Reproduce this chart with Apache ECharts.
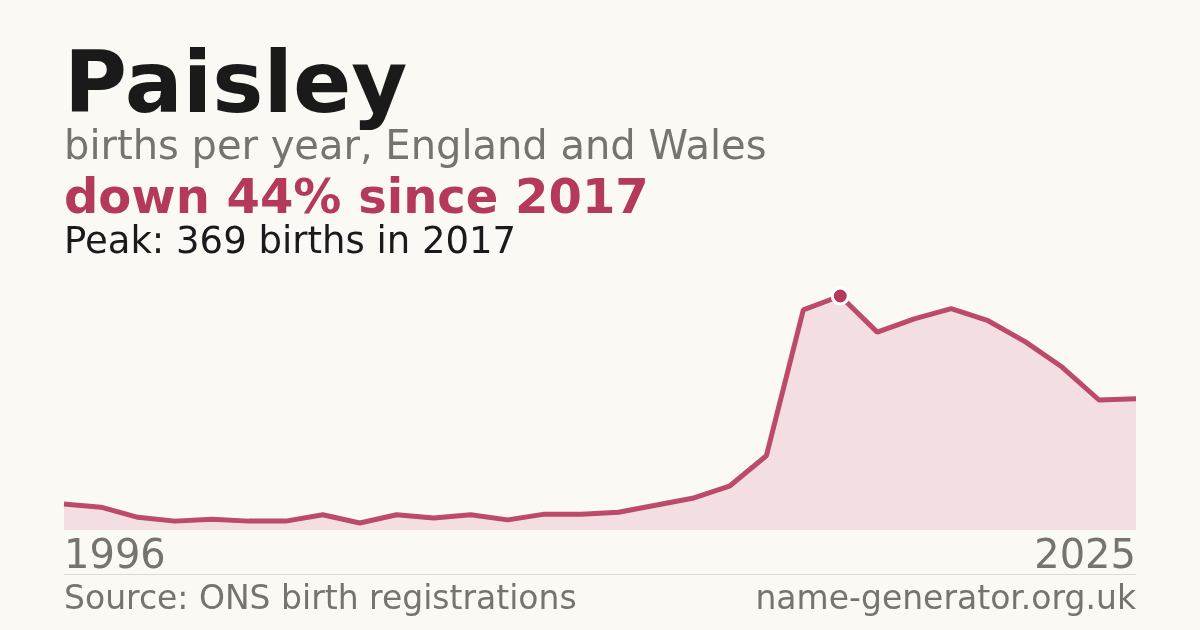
<!DOCTYPE html>
<html><head><meta charset="utf-8">
<script src="https://cdn.jsdelivr.net/npm/echarts@6/dist/echarts.min.js"></script>
<style>html,body{margin:0;padding:0;background:#faf9f4;}#c{width:1200px;height:630px;}</style>
</head><body><div id="c"></div>
<script>
const years = [1996,1997,1998,1999,2000,2001,2002,2003,2004,2005,2006,2007,2008,2009,2010,2011,2012,2013,2014,2015,2016,2017,2018,2019,2020,2021,2022,2023,2024,2025];
const births = [41,36,20,14,17,14,14,24,11,24,19,24,16,25,25,28,39,50,69,117,347,369,312,333,349,330,297,257,205,207];
const peakIndex = 21;
const title = 'Paisley';
const subtitle = 'births per year, England and Wales';
const change = 'down 44% since 2017';
const peakText = 'Peak: 369 births in 2017';
const source = 'Source: ONS birth registrations';
const site = 'name-generator.org.uk';
const red = '#b5395a';
const chart = echarts.init(document.getElementById('c'));
chart.setOption({
  backgroundColor:'#faf9f4',
  animation:false,
  grid:{left:64,right:64,top:296,height:234},
  xAxis:{type:'category',data:years.map(String),boundaryGap:false,show:false},
  yAxis:{type:'value',min:0,max:369,show:false},
  series:[{type:'line',data:births.map((v,i)=>i===peakIndex?{value:v,symbol:'circle',symbolSize:16,itemStyle:{color:red,borderColor:'#fff',borderWidth:3}}:v),
    symbol:'none',lineStyle:{color:red,width:5,opacity:0.9},areaStyle:{color:'rgba(205,70,110,0.2)'}}],
  graphic:[
    {type:'text',left:64,top:47,style:{text:title,font:'bold 86px "DejaVu Sans"',fill:'#1a1a1a'}},
    {type:'text',left:64,top:129,style:{text:subtitle,font:'40px "DejaVu Sans"',fill:'#77736e'}},
    {type:'text',left:64,top:177,style:{text:change,font:'bold 48px "DejaVu Sans"',fill:red}},
    {type:'text',left:64,top:225,style:{text:peakText,font:'37px "DejaVu Sans"',fill:'#1a1a1a'}},
    {type:'text',left:64,top:538,style:{text:'1996',font:'40px "DejaVu Sans"',fill:'#77736e'}},
    {type:'text',right:64,top:538,style:{text:'2025',font:'40px "DejaVu Sans"',fill:'#77736e',align:'right'}},
    {type:'rect',shape:{x:64,y:574,width:1072,height:1},style:{fill:'#dddad3'}},
    {type:'text',left:64,top:584,style:{text:source,font:'33px "DejaVu Sans"',fill:'#77736e'}},
    {type:'text',right:64,top:584,style:{text:site,font:'33px "DejaVu Sans"',fill:'#77736e'}}
  ]
});
</script></body></html>
